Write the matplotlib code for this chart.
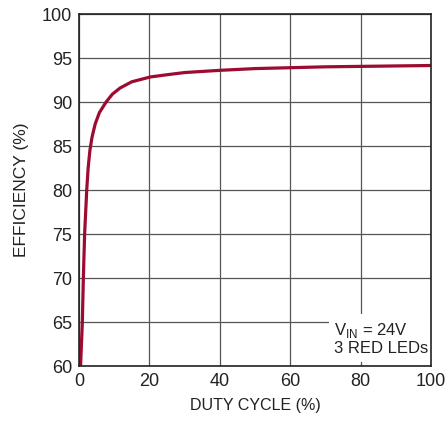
import matplotlib
matplotlib.use('Agg')
import matplotlib.pyplot as plt

plt.rcParams['font.family'] = ['Liberation Sans', 'DejaVu Sans']
plt.rcParams['mathtext.fontset'] = 'custom'
plt.rcParams['mathtext.rm'] = 'Liberation Sans'

# efficiency vs duty cycle
duty = [0.45, 0.7, 0.95, 1.24, 1.6, 2.2, 2.6, 3.1, 3.7, 4.6, 5.8, 7.7, 9.5,
        11.7, 15, 20.3, 25, 30, 40, 50, 60, 70, 80, 90, 100]
eff = [60.0, 62.5, 65.0, 70.0, 75.0, 80.0, 82.5, 84.5, 86.0, 87.5, 88.8, 90.0,
       90.9, 91.6, 92.3, 92.85, 93.1, 93.35, 93.6, 93.8, 93.9, 94.0, 94.05,
       94.1, 94.15]

xticks = [0, 20, 40, 60, 80, 100]
yticks = [60, 65, 70, 75, 80, 85, 90, 95, 100]

fig = plt.figure(figsize=(4.45, 4.25), dpi=100)
ax = fig.add_axes([0.1775, 0.1388, 0.791, 0.8282])

ax.plot(duty, eff, color='#9c0b30', lw=2.3, solid_capstyle='round',
        solid_joinstyle='round', zorder=3)

ax.set_xlim(0, 100)
ax.set_ylim(60, 100)
ax.set_xticks(xticks)
ax.set_yticks(yticks)
ax.grid(True, color='#555555', lw=0.9)
ax.tick_params(length=0, labelsize=13, pad=5, colors='#222222')
for s in ax.spines.values():
    s.set_color('#222222')
    s.set_linewidth(1.2)
    s.set_zorder(5)

ax.set_xlabel('DUTY CYCLE (%)', fontsize=11.5, color='#222222', labelpad=6)
ax.set_ylabel('EFFICIENCY (%)', fontsize=12.5, color='#222222', labelpad=9)

ax.text(72.5, 61.1, 'V$_{\\mathregular{IN}}$ = 24V\n3 RED LEDs', fontsize=12,
        color='#222222', ha='left', va='bottom', linespacing=1.1, zorder=4,
        bbox=dict(facecolor='white', edgecolor='none', pad=4))

fig.savefig('out.png', dpi=100)
